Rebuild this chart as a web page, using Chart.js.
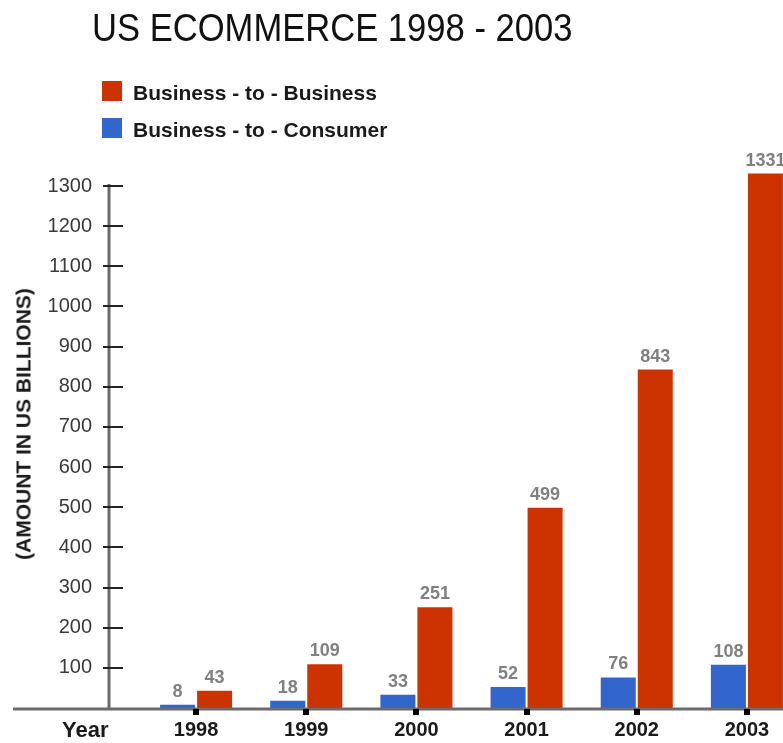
<!DOCTYPE html>
<html>
<head>
<meta charset="utf-8">
<title>US ECOMMERCE 1998 - 2003</title>
<script src="https://cdn.jsdelivr.net/npm/chart.js@4/dist/chart.umd.min.js"></script>
<style>
  html, body { margin: 0; padding: 0; background: #fff; overflow: hidden; }
  #wrap { position: relative; width: 783px; height: 743px; overflow: hidden; font-family: "Liberation Sans", Arial, sans-serif; }
  #chart { position: absolute; left: 0; top: 0; }
  .title { position: absolute; left: 92px; top: 9px; font-size: 38px; line-height: 38px; color: #111; white-space: nowrap; transform: scaleX(0.91); transform-origin: 0 0; }
  .legend-item { position: absolute; left: 102px; height: 21px; font-size: 21px; line-height: 21px; font-weight: bold; color: #1a1a1a; white-space: nowrap; }
  .legend-item .swatch { position: absolute; left: 0; top: -1px; width: 20px; height: 20px; }
  .legend-item .label { position: absolute; left: 31px; top: 0; }
  .ytitle { position: absolute; left: 23px; top: 424px; font-size: 21px; line-height: 21px; font-weight: bold; color: #1a1a1a; white-space: nowrap; transform: translate(-50%, -50%) rotate(-90deg); }
  .xtitle { position: absolute; left: 62px; top: 719px; font-size: 22px; line-height: 22px; font-weight: bold; color: #1a1a1a; }
</style>
</head>
<body>
<div id="wrap">
  <canvas id="chart" width="840" height="743"></canvas>
  <div class="title">US ECOMMERCE 1998 - 2003</div>
  <div class="legend-item" style="top:82px"><span class="swatch" style="background:#CC3300"></span><span class="label">Business - to - Business</span></div>
  <div class="legend-item" style="top:119px"><span class="swatch" style="background:#3366CC"></span><span class="label">Business - to - Consumer</span></div>
  <div class="ytitle">(AMOUNT IN US BILLIONS)</div>
  <div class="xtitle">Year</div>
</div>
<script>
// Years on the category axis
const years = ['1998', '1999', '2000', '2001', '2002', '2003'];
// US e-commerce, billions of dollars
const businessToConsumer = [8, 18, 33, 52, 76, 108];
const businessToBusiness = [43, 109, 251, 499, 843, 1331];
// Value axis range and step
const yMin = 0;
const yMax = 1300;
const yStep = 100;

const RED = '#CC3300';
const BLUE = '#3366CC';

Chart.defaults.font.family = '"Liberation Sans", Arial, sans-serif';

// Axis lines, tick marks and value labels drawn from the chart's scales
const axesPlugin = {
  id: 'customAxes',
  afterDatasetsDraw(chart) {
    const { ctx, scales: { x, y } } = chart;
    const y0 = y.getPixelForValue(yMin);
    const yTop = y.getPixelForValue(yMax);
    const axisX = 109;
    ctx.save();

    // value labels above each bar
    ctx.font = 'bold 18px "Liberation Sans", Arial, sans-serif';
    ctx.fillStyle = '#808080';
    ctx.textAlign = 'center';
    ctx.textBaseline = 'alphabetic';
    chart.data.datasets.forEach((ds, di) => {
      const meta = chart.getDatasetMeta(di);
      meta.data.forEach((bar, i) => {
        ctx.fillText(String(ds.data[i]), bar.x, bar.y - 8);
      });
    });

    // horizontal baseline
    ctx.strokeStyle = '#6b6b6b';
    ctx.lineWidth = 3;
    ctx.beginPath();
    ctx.moveTo(13, y0 + 1);
    ctx.lineTo(chart.width, y0 + 1);
    ctx.stroke();

    // vertical value axis
    ctx.beginPath();
    ctx.moveTo(axisX, yTop - 2);
    ctx.lineTo(axisX, y0);
    ctx.stroke();

    // value axis tick marks
    ctx.strokeStyle = '#222';
    ctx.lineWidth = 2;
    y.ticks.forEach(t => {
      if (t.value === yMin) return;
      const py = Math.round(y.getPixelForValue(t.value));
      ctx.beginPath();
      ctx.moveTo(103, py);
      ctx.lineTo(123, py);
      ctx.stroke();
    });

    // category tick squares
    ctx.fillStyle = '#000';
    years.forEach((_, i) => {
      const px = Math.round(x.getPixelForValue(i));
      ctx.fillRect(px - 3, y0 + 1, 6, 6);
    });
    ctx.restore();
  }
};

new Chart(document.getElementById('chart'), {
  type: 'bar',
  data: {
    labels: years,
    datasets: [
      {
        label: 'Business - to - Consumer',
        data: businessToConsumer,
        backgroundColor: BLUE,
        clip: false
      },
      {
        label: 'Business - to - Business',
        data: businessToBusiness,
        backgroundColor: RED,
        clip: false
      }
    ]
  },
  options: {
    responsive: false,
    animation: false,
    devicePixelRatio: 1,
    categoryPercentage: 0.672,
    barPercentage: 0.946,
    layout: { padding: { left: 0, right: 38, top: 186, bottom: 0 } },
    plugins: {
      legend: { display: false },
      tooltip: { enabled: false },
      title: { display: false }
    },
    scales: {
      x: {
        type: 'category',
        offset: true,
        grid: { display: false, drawTicks: false },
        border: { display: false },
        ticks: {
          color: '#1a1a1a',
          font: { size: 20, weight: 'bold' },
          padding: 10,
          maxRotation: 0,
          autoSkip: false
        },
        afterFit(scale) { scale.height = 35; }
      },
      y: {
        min: yMin,
        max: yMax,
        grid: { display: false, drawTicks: false },
        border: { display: false },
        ticks: {
          stepSize: yStep,
          color: '#3a3a3a',
          font: { size: 20 },
          padding: 49,
          callback: v => (v === yMin ? '' : String(v))
        },
        afterFit(scale) {
          scale.width = 141;
          scale.paddingTop = 0;
          scale.paddingBottom = 0;
        }
      }
    }
  },
  plugins: [axesPlugin]
});
</script>
</body>
</html>
